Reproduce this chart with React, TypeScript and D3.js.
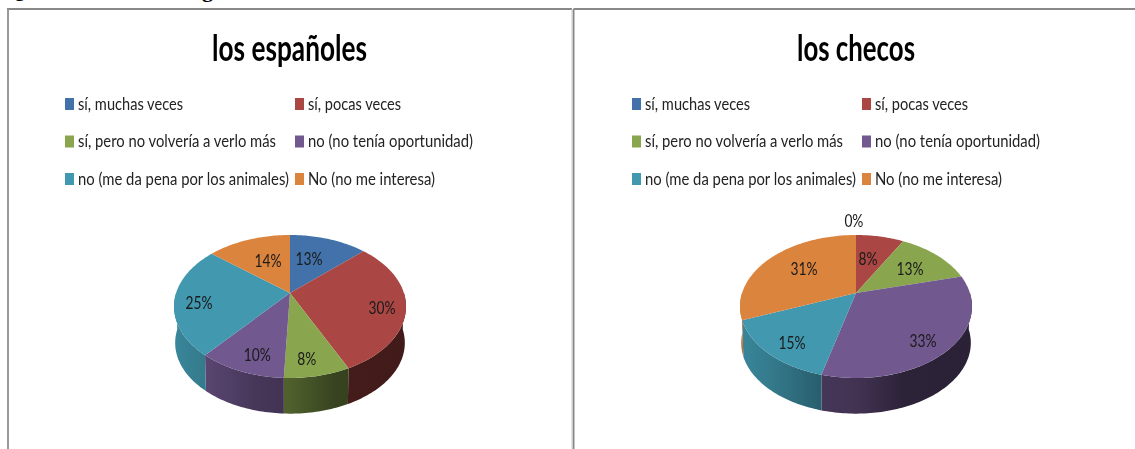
import React from "react";
import * as d3 from "d3";

const categories = [
  "sí, muchas veces",
  "sí, pocas veces",
  "sí, pero no volvería a verlo más",
  "no (no tenía oportunidad)",
  "no (me da pena por los animales)",
  "No (no me interesa)",
];
const sliceColors = ["#4272a9", "#aa4643", "#89a54e", "#71588f", "#4198af", "#db843d"];

const spanishValues = [13, 30, 7.7, 10.3, 25, 14];
const czechValues = [0, 8, 13, 33, 15, 31];

// Label anchors in pie space: [fraction of radius, clockwise degrees from the top]
const spanishLabelAnchors = [[0.59, 18.2], [0.804, 105], [0.82, 171.2], [0.798, 198], [0.79, 260.7], [0.567, 338]];
const czechLabelAnchors = [[1.32, 359], [0.573, 11.7], [0.64, 52.6], [0.798, 139.2], [0.799, 218.3], [0.626, 308.4]];

const legendWidths = [[105, 93], [198, 165], [211, 127]];
const wallShade: [number, number][] = [[0, 0.88], [0.135, 0.8], [0.35, 0.62], [0.5, 0.58], [0.7, 0.4], [1, 0.38]];

const FONT = "Lato, 'Open Sans', sans-serif";
const PERSPECTIVE = 0.1888;
const RX = 113.9;
const RY = 68.95;
const APEX_Y = 293;
const WALL_DROP = 36.5;
const WALL_SCALE = 0.99;

function projector(cx: number) {
  return (theta: number, rho = 1, scale = 1, drop = 0): [number, number] => {
    const u = Math.sin(theta) * rho;
    const v = -Math.cos(theta) * rho;
    const w = 1 - PERSPECTIVE * v;
    return [cx + (scale * RX * u) / w, APEX_Y + drop + (scale * RY * v) / w];
  };
}

function arcAngles(a0: number, a1: number) {
  const n = Math.max(2, Math.ceil((a1 - a0) / 0.02));
  return d3.range(n + 1).map((i) => a0 + ((a1 - a0) * i) / n);
}

function Pie3D({ id, cx, values, anchors }: { id: string; cx: number; values: number[]; anchors: number[][] }) {
  const project = projector(cx);
  const slices = d3.pie<number>().sort(null).value((d) => d)(values);
  const line = d3.line();
  const left = cx - 116;
  const width = 232;
  const frontStart = Math.PI / 2;
  const frontEnd = (3 * Math.PI) / 2;
  return (
    <g>
      <defs>
        {slices.map((s, i) => (
          <linearGradient key={i} id={`${id}-wall-${i}`} gradientUnits="userSpaceOnUse" x1={left} x2={left + width} y1={0} y2={0}>
            {wallShade.map(([t, f]) => {
              const c = d3.rgb(sliceColors[i]);
              return <stop key={t} offset={t} stopColor={d3.rgb(c.r * f, c.g * f, c.b * f).formatHex()} />;
            })}
          </linearGradient>
        ))}
      </defs>
      {slices.map((s, i) => {
        const a0 = Math.max(s.startAngle, frontStart);
        const a1 = Math.min(s.endAngle, frontEnd);
        if (a1 <= a0) return null;
        const angles = arcAngles(a0, a1);
        const pts = [
          ...angles.map((a) => project(a)),
          ...angles.slice().reverse().map((a) => project(a, 1, WALL_SCALE, WALL_DROP)),
        ];
        return <path key={i} d={line(pts) + "Z"} fill={`url(#${id}-wall-${i})`} />;
      })}
      {slices.map((s, i) => {
        if (s.endAngle - s.startAngle <= 0) return null;
        const pts = [project(0, 0), ...arcAngles(s.startAngle, s.endAngle).map((a) => project(a))];
        return <path key={i} d={line(pts) + "Z"} fill={sliceColors[i]} />;
      })}
      <g filter="url(#soft)">
        {values.map((v, i) => {
          const [rho, deg] = anchors[i];
          const [x, y] = project((deg * Math.PI) / 180, rho);
          const label = `${Math.round(v)}%`;
          return (
            <text key={i} x={x} y={y + 6.5} textAnchor="middle" fontFamily={FONT} fontSize={18} fill="#1a1a1a" textLength={label.length === 2 ? 19 : 27} lengthAdjust="spacingAndGlyphs">
              {label}
            </text>
          );
        })}
      </g>
    </g>
  );
}

function Legend({ x }: { x: number }) {
  const rowY = d3.scalePoint<number>().domain([0, 1, 2]).range([104, 179]);
  const colX = [x, x + 230];
  return (
    <g>
      {categories.map((c, i) => {
        const row = Math.floor(i / 2);
        const col = i % 2;
        const y = rowY(row) as number;
        return (
          <g key={c}>
            <rect x={colX[col]} y={y - 6} width={9} height={12} fill={sliceColors[i]} />
            <text x={colX[col] + 13} y={y + 5.5} fontFamily={FONT} fontSize={18} fill="#222" textLength={legendWidths[row][col]} lengthAdjust="spacingAndGlyphs" filter="url(#soft)">
              {c}
            </text>
          </g>
        );
      })}
    </g>
  );
}

export default function App() {
  return (
    <svg width={1135} height={449} style={{ position: "fixed", left: 0, top: 0, background: "#fff" }}>
      <defs>
        <filter id="soft" x="-5%" y="-30%" width="110%" height="160%">
          <feGaussianBlur stdDeviation="0.4" />
        </filter>
      </defs>
      <text x={15} y={-4} fontFamily="'Liberation Serif', serif" fontSize={20} fontWeight={700} fill="#000">g</text>
      <text x={202} y={-3} fontFamily="'Liberation Serif', serif" fontSize={22} fontWeight={700} fill="#000">g</text>

      <rect x={7} y={8} width={565} height={2} fill="#888" />
      <rect x={573.5} y={8} width={561.5} height={2} fill="#888" />
      <rect x={7} y={9} width={2} height={440} fill="#999" />
      <rect x={571.5} y={9} width={1.5} height={440} fill="#ccc" />
      <rect x={573} y={9} width={1.5} height={440} fill="#888" />

      <text x={212} y={61} fontFamily={FONT} fontSize={37} fontWeight={700} fill="#000" textLength={155} lengthAdjust="spacingAndGlyphs" filter="url(#soft)">los españoles</text>
      <text x={797} y={61} fontFamily={FONT} fontSize={37} fontWeight={700} fill="#000" textLength={118} lengthAdjust="spacingAndGlyphs" filter="url(#soft)">los checos</text>

      <Legend x={65} />
      <Legend x={632} />

      <Pie3D id="es" cx={290} values={spanishValues} anchors={spanishLabelAnchors} />
      <Pie3D id="cz" cx={856} values={czechValues} anchors={czechLabelAnchors} />
    </svg>
  );
}
